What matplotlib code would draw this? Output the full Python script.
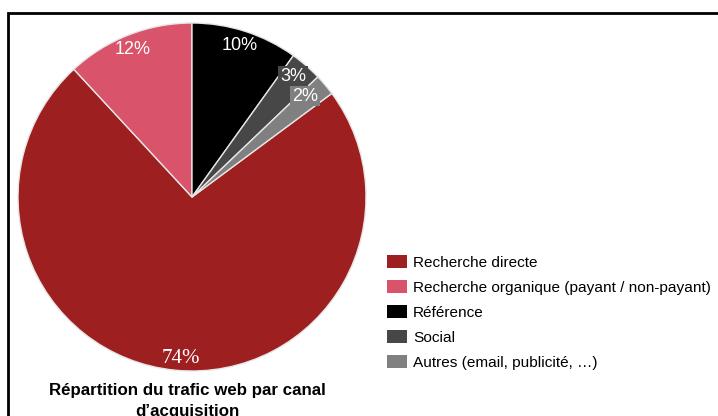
import matplotlib
matplotlib.use('Agg')
import matplotlib.pyplot as plt
from matplotlib.patches import Rectangle

plt.rcParams['font.family'] = ['Liberation Sans', 'DejaVu Sans']

# data (legend order)
channels = ['Recherche directe', 'Recherche organique (payant / non-payant)',
            'Référence', 'Social', 'Autres (email, publicité, …)']
shares = [74, 12, 10, 3, 2]
pct_labels = ['74%', '12%', '10%', '3%', '2%']
colors = ['#9e1f1f', '#d9536a', '#000000', '#474747', '#808080']

W, H = 718, 416
fig = plt.figure(figsize=(W / 100, H / 100), dpi=100)

# frame line around the chart (goes off right/bottom like the screenshot)
fig.add_artist(Rectangle((8 / W, -0.1), 1.2, (416 - 13) / H + 0.1, transform=fig.transFigure,
                         fill=False, edgecolor='black', linewidth=2))

cx, cy, r = 192, 197, 174
ax = fig.add_axes([(cx - r) / W, (H - cy - r) / H, 2 * r / W, 2 * r / H])
# Référence starts at 12 o'clock, so the first wedge starts 15% before it (clockwise)
start = 90 + 360 * sum(shares[:2]) / sum(shares)
wedges, _ = ax.pie(shares, colors=colors, startangle=start, counterclock=False,
                   wedgeprops=dict(edgecolor='#e6e6e6', linewidth=1))
ax.set_xlim(-1, 1)
ax.set_ylim(-1, 1)
ax.set_aspect('equal')
ax.axis('off')

# percent labels
pos = [(-0.063, -0.93), (-0.34, 0.85), (0.276, 0.868), (0.58, 0.695), (0.65, 0.58)]
for i, (lab, (x, y)) in enumerate(zip(pct_labels, pos)):
    kw = dict(ha='center', va='center', color='white', fontsize=13)
    if i == 0:
        kw['family'] = 'Liberation Serif'
        kw['fontsize'] = 15
    if i >= 3:
        kw['bbox'] = dict(boxstyle='square,pad=0.1', facecolor=colors[i], edgecolor='none')
    ax.text(x, y, lab, **kw)

leg = fig.legend(wedges, channels, loc='upper left', bbox_to_anchor=(379 / W, 1 - 247 / H),
                 frameon=False, fontsize=11.1, handlelength=1.3, handleheight=0.95,
                 handletextpad=0.4, labelspacing=0.66, borderpad=0)
for h in leg.legend_handles:
    h.set_edgecolor('none')

fig.text(187 / W, 1 - 383 / H, 'Répartition du trafic web par canal\nd’acquisition',
         ha='center', va='top', fontsize=12.2, fontweight='bold', linespacing=1.5)

fig.savefig('out.png', dpi=100)
